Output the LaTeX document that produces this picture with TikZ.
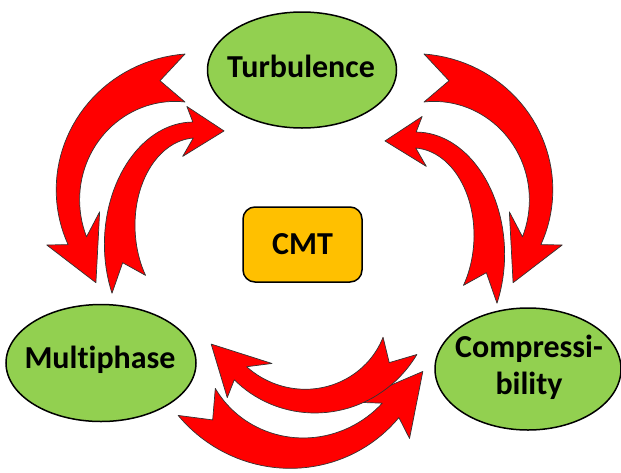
\documentclass[tikz,border=0pt]{standalone}
\usepackage{fontspec}
\setmainfont{Carlito}[Ligatures=NoCommon]
\usetikzlibrary{shapes.geometric}

\definecolor{leafgreen}{RGB}{146,208,80}
\definecolor{ambergold}{RGB}{255,192,0}

% bent block arrow on an elliptic arc
% #1,#2 centre  #3,#4 radii  #5 tail angle  #6 head angle  #7 tail half width  #8 head half width
\newcommand{\bentarrow}[8]{%
  \pgfmathsetmacro{\arrsign}{sign(#6-(#5))}
  \pgfmathsetmacro{\arrrad}{(#3+#4)/2}
  \pgfmathsetmacro{\tipang}{#6+\arrsign*4.4*#8/\arrrad*57.3}
  \pgfmathsetmacro{\outang}{#6-\arrsign*0.8*#8/(\arrrad+3*#8)*57.3}
  \pgfmathsetmacro{\inang}{#6-\arrsign*1.8*#8/(\arrrad-3*#8)*57.3}
  \pgfmathsetmacro{\notchang}{#5+\arrsign*1.05*#7/\arrrad*57.3}
  \def\bandw{(#8+(#7-#8)*(1-(\x-(#5))/(#6-(#5)))*(1-0.5*(\x-(#5))/(#6-(#5))))}
  \filldraw[arrowbody] plot[domain=#5:#6,samples=40] ({#1+(#3+\bandw)*cos(\x)},{#2+(#4+\bandw)*sin(\x)})
    -- ({#1+(#3+3*#8)*cos(\outang)},{#2+(#4+3*#8)*sin(\outang)})
    -- ({#1+(#3+0.8*#8)*cos(\tipang)},{#2+(#4+0.8*#8)*sin(\tipang)})
    -- ({#1+(#3-3*#8)*cos(\inang)},{#2+(#4-3*#8)*sin(\inang)})
    -- plot[domain=#6:#5,samples=40] ({#1+(#3-\bandw)*cos(\x)},{#2+(#4-\bandw)*sin(\x)})
    -- ({#1+#3*cos(\notchang)},{#2+#4*sin(\notchang)})
    -- cycle;
}

\begin{document}
\begin{tikzpicture}[x=1pt,y=-1pt,
  bubble/.style={ellipse,draw,line width=1.5pt,fill=leafgreen,inner sep=0pt},
  word/.style={font=\fontsize{32}{37}\selectfont\bfseries,align=center},
  arrowbody/.style={fill=red,draw=black!80,line width=0.7pt,line join=round}]
\useasboundingbox (0,0) rectangle (621,472);

% Turbulence <-> Multiphase
\bentarrow{185}{195}{117}{117}{270}{157}{24}{10}
\bentarrow{195}{235}{75}{105}{152}{268.5}{19}{8}
% Turbulence <-> Compressibility
\bentarrow{424}{195}{117}{117}{-90}{23}{24}{10}
\bentarrow{414}{245}{75}{105}{28}{-88.5}{19}{8}
% Multiphase <-> Compressibility
\bentarrow{297}{329}{124}{124}{144}{41}{23}{11}
\bentarrow{310}{300}{101}{101}{27}{133.5}{19}{9}

\node [bubble,minimum width=189,minimum height=116] (turb) at (302,70) {};
\node [word] (turbtxt) at (301,66) {Turbulence};

\node [bubble,minimum width=190,minimum height=117] (multi) at (101,363) {};
\node [word] (multitxt) at (100,360) {Multiphase};

\node [bubble,minimum width=186,minimum height=122] (comp) at (528,369) {};
\node [word] (comptxt) at (529,367) {Compressi-\\bility};

\node [draw,word,rounded corners=12pt,fill=ambergold,line width=1.5pt,minimum width=119,minimum height=75] (cmt) at (302.5,244.5) {CMT};
\end{tikzpicture}
\end{document}
